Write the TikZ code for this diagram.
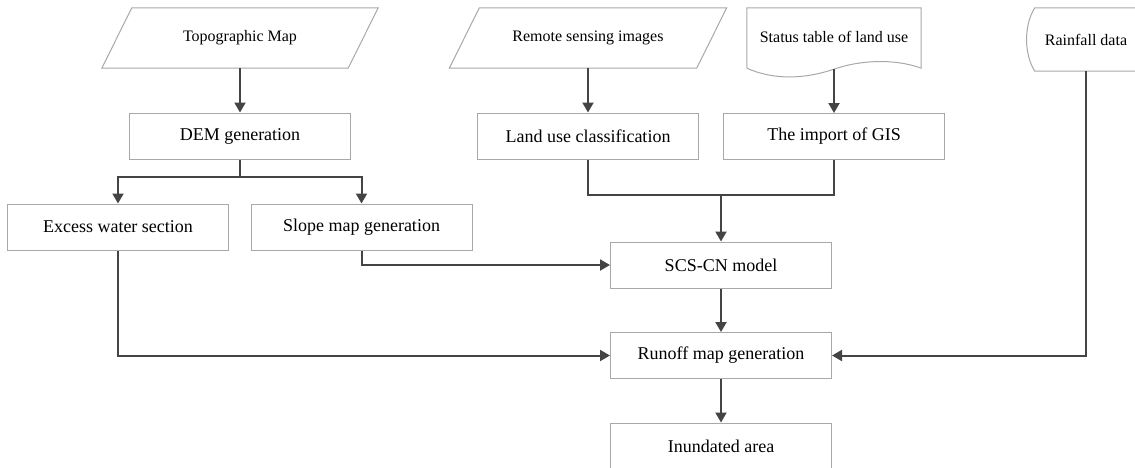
\documentclass[tikz,border=0pt]{standalone}
\usepackage{fontspec}
\setmainfont{Liberation Serif}
\usetikzlibrary{arrows.meta}

\definecolor{linegray}{HTML}{444444}
\definecolor{framegray}{HTML}{A8A8A8}

\begin{document}
\begin{tikzpicture}[x=1pt, y=-1pt, >={Triangle[length=10pt,width=11pt]},
  box/.style={draw=framegray, line width=1pt, minimum width=221pt, minimum height=46pt,
    inner sep=0pt, font=\fontsize{18}{22}\selectfont},
  source/.style={minimum height=60pt, inner sep=0pt, font=\fontsize{16}{19}\selectfont},
  outline/.style={draw=framegray, line width=1pt},
  flow/.style={->, draw=linegray, line width=2pt},
  wire/.style={draw=linegray, line width=2pt}]
  \useasboundingbox (0,0) rectangle (1135,467);

  % input data
  \node[source, minimum width=246pt] (topo) at (240,38) {Topographic Map};
  \node[source, minimum width=247pt] (remote) at (588,38) {Remote sensing images};
  \node[source, minimum width=174pt] (status) at (834,38) {\raisebox{2pt}{Status table of land use}};
  \node[source, minimum width=102pt, minimum height=63pt] (rain) at (1086,39.5) {Rainfall data};

  % outlines of the inputs
  \foreach \n in {topo,remote}
    \draw[outline] ([xshift=-15pt]\n.south west) -- ([xshift=-15pt]\n.south east)
      -- ([xshift=15pt]\n.north east) -- ([xshift=15pt]\n.north west) -- cycle;
  \draw[outline] (status.south west) -- (status.north west) -- (status.north east) -- (status.south east)
    .. controls ([xshift=-27pt,yshift=10pt]status.south east) and ([xshift=-62pt,yshift=8pt]status.south east) .. ([yshift=-1pt]status.south)
    .. controls ([xshift=-30pt,yshift=-11pt]status.south) and ([xshift=-60pt,yshift=-12pt]status.south) .. (status.south west);
  \draw[outline] ([xshift=60pt]rain.north east) -- (rain.north west)
    .. controls ([xshift=-11pt,yshift=-17pt]rain.north west) and ([xshift=-11pt,yshift=17pt]rain.south west) .. (rain.south west)
    -- ([xshift=60pt]rain.south east);

  % processing steps
  \node[box] (dem) at (240,136) {DEM generation};
  \node[box] (landuse) at (588,136) {Land use classification};
  \node[box] (gis) at (834,136.5) {The import of GIS};
  \node[box] (excess) at (118,227) {Excess water section};
  \node[box] (slope) at (361.5,227) {Slope map generation};
  \node[box] (scs) at (721,265) {SCS-CN model};
  \node[box] (runoff) at (721,355.5) {Runoff map generation};
  \node[box] (inund) at (721,446) {Inundated area};

  \coordinate (split) at (240,177);
  \coordinate (merge) at (721,195);

  % connections
  \draw[flow] ([yshift=-1pt]status.south) -- (gis);
  \draw[flow] (topo) -- (dem);
  \draw[flow] (remote) -- (landuse);
  \draw[wire] (dem.south) -- (split);
  \draw[flow] (split) -| (excess.north);
  \draw[flow] (split) -| (slope.north);
  \draw[wire] (landuse.south) |- (merge) -| (gis.south);
  \draw[flow] (merge) -- (scs.north);
  \draw[flow] (slope.south) |- (scs.west);
  \draw[flow] (scs) -- (runoff);
  \draw[flow] (excess.south) |- (runoff.west);
  \draw[flow] (rain.south) |- (runoff.east);
  \draw[flow] (runoff) -- (inund);
\end{tikzpicture}
\end{document}
